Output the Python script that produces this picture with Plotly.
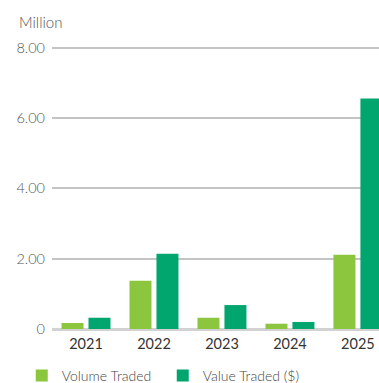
import plotly.graph_objects as go

# Trading activity by year (millions)
years = ["2021", "2022", "2023", "2024", "2025"]
volume_traded = [0.17, 1.37, 0.32, 0.15, 2.11]
value_traded = [0.32, 2.14, 0.68, 0.20, 6.55]

y_ticks = [0, 2, 4, 6, 8]
y_tick_text = ["0", "2.00", "4.00", "6.00", "8.00"]

LIGHT_GREEN = "#8cc63f"
DARK_GREEN = "#00a66e"
FONT = "Lato, 'Open Sans', sans-serif"

Y_MAX = 8.1
PLOT_TOP = 43.5  # leaves the 8.00 gridline just inside the plot area

fig = go.Figure()
fig.add_trace(go.Bar(x=years, y=volume_traded, name="Volume Traded",
                     marker=dict(color=LIGHT_GREEN, line=dict(width=0))))
fig.add_trace(go.Bar(x=years, y=value_traded, name="Value Traded ($)",
                     marker=dict(color=DARK_GREEN, line=dict(width=0))))

plot_h = 329 - PLOT_TOP
fig.update_layout(
    width=379, height=383,
    margin=dict(l=52, r=0, t=PLOT_TOP, b=54, autoexpand=False),
    paper_bgcolor="white", plot_bgcolor="white",
    barmode="group", bargap=0.206, bargroupgap=0.185,
    font=dict(family=FONT, size=14, color="#555", weight=300),
    showlegend=True,
    legend=dict(orientation="h", x=-0.0925, xanchor="left",
                y=-47 / plot_h, yanchor="middle",
                font=dict(size=14, color="#444", weight=300), itemwidth=30,
                entrywidth=96, entrywidthmode="pixels",
                bgcolor="rgba(0,0,0,0)"),
    annotations=[dict(text="Million", xref="paper", yref="paper",
                      x=-35 / 327, y=1 + (PLOT_TOP - 21) / plot_h,
                      xanchor="left", yanchor="middle",
                      showarrow=False, font=dict(size=15, color="#555", weight=300))],
)

fig.update_xaxes(type="category", range=[-0.5, 4.31], showgrid=False, showline=False,
                 ticks="", tickfont=dict(size=14.5, color="#333", weight=400),
                 ticklabelstandoff=4, zeroline=False)
fig.update_yaxes(range=[0, Y_MAX], tickvals=y_ticks, ticktext=y_tick_text,
                 showgrid=True, gridcolor="#c4c4c4", gridwidth=1.5,
                 zeroline=True, zerolinecolor="#d2d2d2", zerolinewidth=2.5,
                 showline=False, ticks="", ticklabelstandoff=6,
                 tickfont=dict(size=14.5, color="#555", weight=300))

fig.write_html("out.html")
